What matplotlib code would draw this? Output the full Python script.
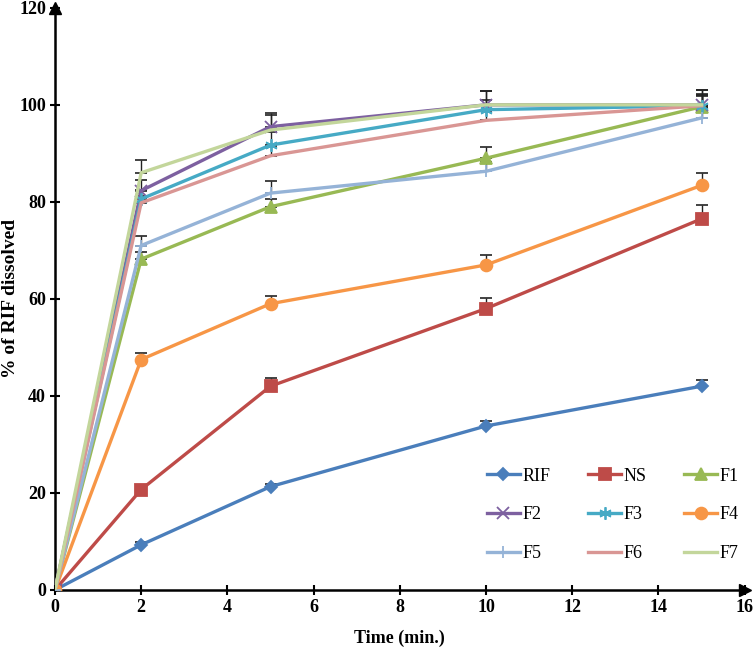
import numpy as np
import matplotlib
matplotlib.use('Agg')
import matplotlib.pyplot as plt

plt.rcParams['font.family'] = ['Liberation Serif', 'DejaVu Serif']

time = [0, 2, 5, 10, 15]
names = ["RIF", "NS", "F1", "F2", "F3", "F4", "F5", "F6", "F7"]

rif = [0, 9.3, 21.3, 33.8, 42.0]
ns = [0, 20.7, 42.0, 58.0, 76.5]
f1 = [0, 68.2, 79.0, 89.0, 99.6]
f2 = [0, 82.3, 95.5, 100.0, 100.0]
f3 = [0, 80.6, 91.7, 99.0, 99.8]
f4 = [0, 47.5, 59.0, 67.0, 83.4]
f5 = [0, 71.0, 81.8, 86.3, 97.3]
f6 = [0, 79.8, 89.5, 96.8, 99.8]
f7 = [0, 86.0, 94.8, 100.0, 100.0]

err_rif = [0, 0.5, 0.6, 1.0, 1.3]
err_ns = [0, 0.8, 1.6, 2.2, 2.9]
err_f1 = [0, 1.5, 1.5, 2.4, 2.5]
err_f2 = [0, 2.2, 2.9, 2.8, 3.0]
err_f3 = [0, 1.8, 2.7, 2.0, 2.5]
err_f4 = [0, 1.4, 1.6, 2.1, 2.5]
err_f5 = [0, 2.0, 2.4, 2.0, 2.0]
err_f6 = [0, 1.5, 2.0, 2.0, 2.0]
err_f7 = [0, 2.6, 3.1, 2.8, 3.0]

series = [rif, ns, f1, f2, f3, f4, f5, f6, f7]
errors = [err_rif, err_ns, err_f1, err_f2, err_f3, err_f4, err_f5, err_f6, err_f7]
colors = ["#4A7EBB", "#BE4B48", "#98B954", "#7D60A0", "#46AAC5",
          "#F79646", "#95B3D7", "#D99694", "#C3D69B"]
markers = ["D", "s", "^", "x", (6, 2, 0), "o", "+", None, None]
msizes = [6, 8.5, 8, 8, 9, 8.5, 9, 0, 0]

fig = plt.figure(figsize=(7.53, 6.49), dpi=100)
ax = fig.add_axes([0.073, 0.091, 0.916, 0.897])

handles = {}
for name, y, err, c, m, ms in zip(names, series, errors, colors, markers, msizes):
    y = np.array(y)
    err = np.array(err)
    ax.errorbar(time[1:], y[1:], yerr=[np.zeros(len(err) - 1), err[1:]],
                fmt="none", ecolor="#222222", elinewidth=1.0, capsize=4,
                capthick=1.2, zorder=2)
    line, = ax.plot(time, y, color=c, lw=2.4, marker=m, markersize=ms,
                    markeredgewidth=1.3, label=name, zorder=3)
    handles[name] = line

ax.set_xlim(0, 16)
ax.set_ylim(0, 120)
ax.set_xticks(range(0, 17, 2))
ax.set_yticks(range(0, 121, 20))
ax.spines["top"].set_visible(False)
ax.spines["right"].set_visible(False)
ax.spines["left"].set_linewidth(1.8)
ax.spines["bottom"].set_linewidth(1.8)
ax.tick_params(direction="inout", length=7, width=1.5, labelsize=13, pad=3)
for lab in ax.get_xticklabels() + ax.get_yticklabels():
    lab.set_fontweight("bold")

ax.plot(1, 0, ">k", markersize=8, transform=ax.get_yaxis_transform(), clip_on=False)
ax.plot(0, 1, "^k", markersize=8, transform=ax.get_xaxis_transform(), clip_on=False)

ax.set_xlabel("Time (min.)", fontsize=13, fontweight="bold", labelpad=10)
ax.set_ylabel("% of RIF dissolved", fontsize=14, fontweight="bold")
ax.yaxis.set_label_coords(-0.052, 0.5)

# legend filled row by row: reorder for column-wise layout
order = ["RIF", "F2", "F5", "NS", "F3", "F6", "F1", "F4", "F7"]
ax.legend([handles[n] for n in order], order, ncol=3, frameon=False,
          fontsize=13, handlelength=1.8, handletextpad=0.15,
          columnspacing=2.1, labelspacing=1.2,
          loc="lower right", bbox_to_anchor=(1.015, 0.02))

fig.savefig("out.png", dpi=100)
